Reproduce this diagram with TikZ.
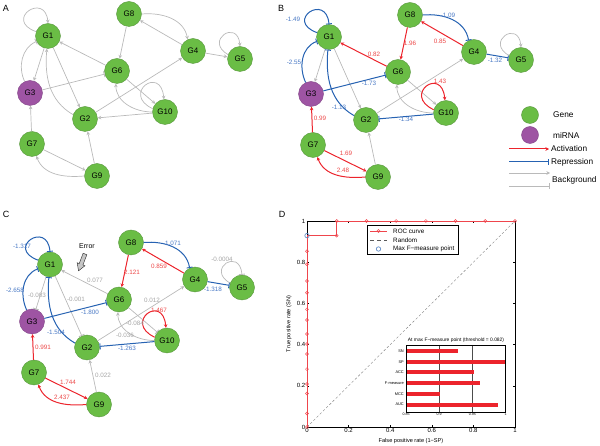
\documentclass[tikz,border=0pt]{standalone}
\usepackage{fontspec}
\setmainfont{Liberation Sans}
\usetikzlibrary{arrows.meta}

\definecolor{genegreen}{RGB}{106,189,69}
\definecolor{generim}{RGB}{88,150,62}
\definecolor{mirpurple}{RGB}{158,84,163}
\definecolor{mirrim}{RGB}{130,70,135}
\definecolor{actred}{RGB}{236,36,44}
\definecolor{repblue}{RGB}{38,98,178}
\definecolor{bggray}{RGB}{186,186,186}
\definecolor{labred}{RGB}{236,72,72}
\definecolor{labblue}{RGB}{72,120,196}
\definecolor{labgray}{RGB}{165,165,165}

\newcommand{\fsz}[1]{\fontsize{#1}{#1}\selectfont}

\tikzset{
  gene/.style={circle,draw=generim,line width=0.4pt,fill=genegreen,minimum size=25pt,inner sep=0pt,font=\fsz{8}},
  mirna/.style={gene,draw=mirrim,fill=mirpurple},
  bg/.style={draw=bggray,line width=0.7pt},
  act/.style={draw=actred,line width=1pt},
  rep/.style={draw=repblue,line width=1pt},
  ar/.style={-{Stealth[length=3.6pt,width=3.6pt]}},
  tbar/.style={-{Bar[width=6pt,line width=0.9pt]}},
  wred/.style={text=labred,font=\fsz{6.3},inner sep=0.5pt},
  wblue/.style={text=labblue,font=\fsz{6.3},inner sep=0.5pt},
  wgray/.style={text=labgray,font=\fsz{6.3},inner sep=0.5pt},
  legtxt/.style={font=\fsz{8.3},anchor=west,inner sep=0pt},
  panel/.style={font=\fsz{9},inner sep=0pt},
  tick/.style={font=\fsz{6},inner sep=1.5pt},
  axlab/.style={font=\fsz{5.6},inner sep=0pt},
  roc/.style={draw=actred!85,line width=0.9pt},
  rocmark/.style={draw=actred!85,line width=0.5pt},
  maxf/.style={draw=repblue!80,line width=0.6pt},
  diag/.style={draw=gray,line width=0.4pt,dash pattern=on 2.5pt off 2pt},
  dleg/.style={font=\fsz{6.3},anchor=west,inner sep=0pt},
  inlab/.style={font=\fsz{3.9},anchor=east,inner sep=1pt},
  errarrow/.style={fill=gray!45,draw=gray!30!black,line width=0.4pt}
}

\newcommand{\genenet}[1]{%
  \foreach \n/\x/\y in {G1/48/36,G2/85/119,G4/193/51,G5/240/59,G6/117/71,G7/32/144,G8/129/14,G9/97/176,G10/165/112}
    \node[gene] (#1\n) at (\x,-\y) {\n};
  \node[mirna] (#1G3) at (30,-93) {G3};
}

\begin{document}
\begin{tikzpicture}[x=1pt,y=1pt]
  \useasboundingbox (0,0) rectangle (600,-446);

  \node[panel] (pA) at (6,-8) {A};
  \node[panel] (pB) at (281,-8) {B};
  \node[panel] (pC) at (6,-214) {C};
  \node[panel] (pD) at (282,-214) {D};

  % A: background network
  \begin{scope}
    \genenet{a}
    \draw[bg,ar] (aG1.160) .. controls +(160:35) and +(95:32) .. (aG1.north);
    \draw[bg,tbar] (aG3.115) to[out=115,in=205] (aG1.205);
    \draw[bg,ar] (aG1) -- (aG3);
    \draw[bg,ar] (aG1) -- (aG2);
    \draw[bg,ar] (aG2.160) to[out=150,in=-95] (aG1.-95);
    \draw[bg,ar] (aG6) -- (aG1);
    \draw[bg,ar] (aG8) -- (aG6);
    \draw[bg,ar] (aG8.east) to[out=5,in=100] (aG4.115);
    \draw[bg,ar] (aG4) -- (aG8);
    \draw[bg,ar] (aG4) -- (aG5);
    \draw[bg,ar] (aG5.160) .. controls +(150:28) and +(95:28) .. (aG5.north);
    \draw[bg,tbar] (aG3) -- (aG6);
    \draw[bg,ar] (aG2) -- (aG4);
    \draw[bg,ar] (aG6) -- (aG10);
    \draw[bg,ar] (aG10.west) to[out=180,in=-90] (aG6.-95);
    \draw[bg,ar] (aG10.165) .. controls +(155:35) and +(95:35) .. (aG10.95);
    \draw[bg,ar] (aG10) -- (aG2);
    \draw[bg,ar] (aG7) -- (aG3);
    \draw[bg,ar] (aG7) -- (aG9);
    \draw[bg,ar] (aG9.west) to[out=185,in=-70] (aG7.-70);
    \draw[bg,ar] (aG9) -- (aG2);
  \end{scope}

  % B: true network
  \begin{scope}[shift={(281,-1)}]
    \genenet{b}
    \draw[rep,tbar] (bG1.160) .. controls +(160:35) and +(95:32) .. (bG1.north);
    \draw[rep,tbar] (bG3.115) to[out=115,in=200] (bG1.200);
    \draw[bg,ar] (bG1) -- (bG3);
    \draw[bg,ar] (bG1) -- (bG2);
    \draw[rep,tbar] (bG2.160) to[out=150,in=-95] (bG1.-95);
    \draw[act,ar] (bG6) -- (bG1);
    \draw[act,ar] (bG8) -- (bG6);
    \draw[rep,tbar] (bG8.east) to[out=5,in=100] (bG4.115);
    \draw[act,ar] (bG4) -- (bG8);
    \draw[rep,tbar] (bG4) -- (bG5);
    \draw[bg,ar] (bG5.160) .. controls +(150:28) and +(95:28) .. (bG5.north);
    \draw[rep,tbar] (bG3) -- (bG6);
    \draw[bg,ar] (bG2) -- (bG4);
    \draw[bg,ar] (bG6) -- (bG10);
    \draw[bg,ar] (bG10.west) to[out=180,in=-90] (bG6.-95);
    \draw[act,ar] (bG10.165) .. controls +(155:35) and +(95:35) .. (bG10.95);
    \draw[rep,tbar] (bG10) -- (bG2);
    \draw[act,ar] (bG7) -- (bG3);
    \draw[act,ar] (bG7) -- (bG9);
    \draw[act,ar] (bG9.west) to[out=185,in=-70] (bG7.-70);
    \draw[bg,ar] (bG9) -- (bG2);
    \node[wblue] (bw11) at (12,-18) {-1.49};
    \node[wblue] (bw31) at (13,-61) {-2.55};
    \node[wred] (bw61) at (93,-53) {0.82};
    \node[wred] (bw86) at (129,-42) {1.96};
    \node[wblue] (bw84) at (167,-14) {-1.09};
    \node[wred] (bw48) at (159,-40) {0.85};
    \node[wblue] (bw45) at (214,-59) {-1.32};
    \node[wblue] (bw36) at (88,-82) {-1.73};
    \node[wred] (bw1010) at (159,-80) {1.43};
    \node[wblue] (bw21) at (58,-106) {-1.13};
    \node[wblue] (bw102) at (125,-118) {-1.34};
    \node[wred] (bw73) at (39,-117) {0.99};
    \node[wred] (bw79) at (65,-152) {1.69};
    \node[wred] (bw97) at (62,-169) {2.48};
  \end{scope}

  % legend
  \node[gene,minimum size=17pt] (lgene) at (530,-115) {};
  \node[mirna,minimum size=17pt] (lmir) at (530,-135) {};
  \node[legtxt] (tgene) at (553,-115) {Gene};
  \node[legtxt] (tmir) at (553,-135) {miRNA};
  \coordinate (la1) at (509,-149); \coordinate (la2) at (549,-149);
  \coordinate (lr1) at (509,-162); \coordinate (lr2) at (549,-162);
  \coordinate (lb1) at (509,-173); \coordinate (lb2) at (550,-173);
  \coordinate (lc1) at (509,-186); \coordinate (lc2) at (550,-186);
  \draw[act,ar] (la1) -- (la2);
  \draw[rep,tbar] (lr1) -- (lr2);
  \draw[bg,ar] (lb1) -- (lb2);
  \draw[bg,tbar] (lc1) -- (lc2);
  \node[legtxt] (tact) at (551,-149) {Activation};
  \node[legtxt] (trep) at (551,-162) {Repression};
  \node[legtxt] (tbg) at (552,-180) {Background};

  % C: inferred network
  \begin{scope}[shift={(2,-228.5)}]
    \genenet{c}
    \draw[rep,tbar] (cG1.160) .. controls +(160:35) and +(95:32) .. (cG1.north);
    \draw[rep,tbar] (cG3.115) to[out=115,in=200] (cG1.200);
    \draw[bg,tbar] (cG1) -- (cG3);
    \draw[bg,tbar] (cG1) -- (cG2);
    \draw[rep,tbar] (cG2.160) to[out=150,in=-95] (cG1.-95);
    \draw[bg,ar] (cG6) -- (cG1);
    \draw[act,ar] (cG8) -- (cG6);
    \draw[rep,tbar] (cG8.east) to[out=5,in=100] (cG4.115);
    \draw[act,ar] (cG4) -- (cG8);
    \draw[rep,tbar] (cG4) -- (cG5);
    \draw[bg,tbar] (cG5.160) .. controls +(150:28) and +(95:28) .. (cG5.north);
    \draw[rep,tbar] (cG3) -- (cG6);
    \draw[bg,ar] (cG2) -- (cG4);
    \draw[bg,tbar] (cG6) -- (cG10);
    \draw[bg,ar] (cG10.west) to[out=180,in=-90] (cG6.-95);
    \draw[act,ar] (cG10.165) .. controls +(155:35) and +(95:35) .. (cG10.95);
    \draw[rep,tbar] (cG10) -- (cG2);
    \draw[act,ar] (cG7) -- (cG3);
    \draw[act,ar] (cG7) -- (cG9);
    \draw[act,ar] (cG9.west) to[out=185,in=-70] (cG7.-70);
    \draw[bg,ar] (cG9) -- (cG2);
    \node[wblue] (cw11) at (20,-17.5) {-1.317};
    \node[wblue] (cw31) at (13,-61.5) {-2.658};
    \node[wgray] (cw13) at (35,-66.5) {-0.003};
    \node[wgray] (cw12) at (74,-70.5) {-0.001};
    \node[wgray] (cw61) at (93,-51.5) {0.077};
    \node[wred] (cw86) at (130,-43.5) {2.121};
    \node[wblue] (cw84) at (170,-14.5) {-1.071};
    \node[wred] (cw48) at (157,-37.5) {0.859};
    \node[wgray] (cw55) at (220,-30.5) {-0.0004};
    \node[wblue] (cw45) at (211,-60.5) {-1.318};
    \node[wgray] (cw24) at (150,-71.5) {0.012};
    \node[wblue] (cw36) at (88,-83.5) {-1.800};
    \node[wred] (cw1010) at (157,-81.5) {1.467};
    \node[wgray] (cw610) at (133,-94.5) {-0.084};
    \node[wgray] (cw106) at (123,-106.5) {-0.036};
    \node[wblue] (cw21) at (54,-103.5) {-1.504};
    \node[wblue] (cw102) at (125,-119.5) {-1.263};
    \node[wred] (cw73) at (41,-118.5) {0.991};
    \node[wgray] (cw92) at (101,-146.5) {0.022};
    \node[wred] (cw79) at (66,-153.5) {1.744};
    \node[wred] (cw97) at (60,-168.5) {2.437};
    \node[font=\fsz{7},inner sep=0pt] (err) at (85,-17.5) {Error};
    \begin{scope}[shift={(83,-25.5)},rotate=-111]
      \filldraw[errarrow] (0,2) -- (11,2) -- (11,4.2) -- (18,0) -- (11,-4.2) -- (11,-2) -- (0,-2) -- cycle;
    \end{scope}
  \end{scope}

  % D: ROC curve
  \begin{scope}[shift={(307,-427)},x=208pt,y=206pt]
    \draw[diag] (0,0) -- (1,1);
    \draw[line width=0.5pt] (0,0) rectangle (1,1);
    \foreach \t [count=\i] in {0,0.2,0.4,0.6,0.8,1}{
      \draw[line width=0.4pt] (\t,0) -- ++(0,2pt) (\t,1) -- ++(0,-2pt) (0,\t) -- ++(2pt,0) (1,\t) -- ++(-2pt,0);
      \node[tick,anchor=north] (xt\i) at (\t,0) {\t};
      \node[tick,anchor=east] (yt\i) at (0,\t) {\t};
    }
    \draw[roc] (0,0) -- (0,0.929) -- (1/7,0.929) -- (1/7,1) -- (1,1);
    \foreach \v in {0,0.066,0.163,0.209,0.281,0.354,0.403,0.451,0.519,0.571,0.652,0.709,0.790,0.853}
      \draw[rocmark] (0,\v) circle (1.5pt);
    \foreach \k in {1,...,7}
      \draw[rocmark] (\k/7,1) circle (1.5pt);
    \draw[rocmark] (1/7,0.929) circle (1.5pt);
    \draw[maxf] (0,0.929) circle (2.2pt);
    \node[axlab] (xlab) at (0.5,-0.068) {False positive rate (1−SP)};
    \node[axlab,rotate=90] (ylab) at (-0.0865,0.5) {True positive rate (SN)};
  \end{scope}

  % D legend
  \draw[fill=white,line width=0.4pt] (366.7,-225) rectangle (458,-254);
  \draw[roc] (370,-231) -- (387,-231);
  \draw[rocmark] (378.5,-231) circle (1.5pt);
  \draw[draw=gray!70!black,line width=0.5pt,dash pattern=on 4pt off 3pt] (370,-240) -- (387,-240);
  \draw[maxf] (378.5,-249) circle (2.2pt);
  \node[dleg] (dl1) at (393,-231) {ROC curve};
  \node[dleg] (dl2) at (393,-240) {Random};
  \node[dleg] (dl3) at (393,-249) {Max F−measure point};

  % D inset bars
  \fill[white] (406,-345) rectangle (505.5,-411.7);
  \draw[gray!60!black,line width=0.3pt] (439.2,-345) -- (439.2,-411.7) (472.3,-345) -- (472.3,-411.7);
  \foreach \lab/\v [count=\i] in {SN/0.928,SP/1,ACC/0.952,F-measure/0.962,MCC/0.901,AUC/0.989}{
    \pgfmathsetmacro\yy{-351-(\i-1)*10.73}
    \fill[actred] (406,\yy-2) rectangle ({406+(\v-0.85)*663.3},\yy+2);
    \node[inlab] (il\i) at (405,\yy) {\lab};
  }
  \draw[line width=0.4pt] (406,-345) rectangle (505.5,-411.7);
  \foreach \t/\x [count=\i] in {0.85/406,0.9/439.2,0.95/472.3,1/505.5}
    \node[font=\fsz{3.6},anchor=north,inner sep=1.5pt] (it\i) at (\x,-411.7) {\t};
  \node[font=\fsz{4.9},inner sep=0pt] (ititle) at (456,-340.5) {At max F−measure point (threshold = 0.082)};
\end{tikzpicture}
\end{document}
